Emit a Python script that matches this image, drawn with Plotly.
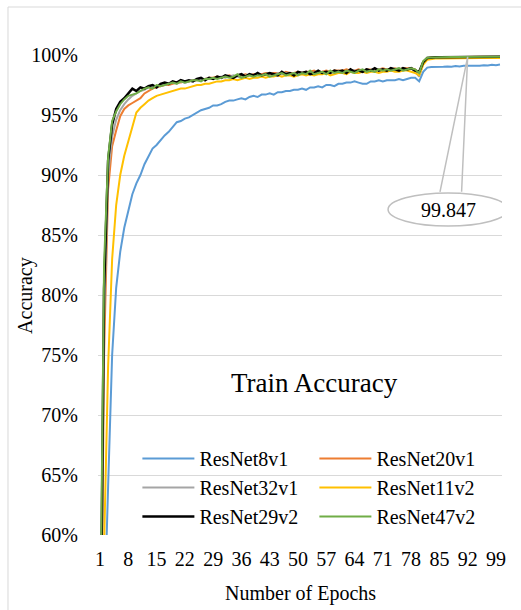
import plotly.graph_objects as go

epochs = list(range(1, 101))
x_tick_vals = list(range(1, 101, 7))
y_tick_vals = [60, 65, 70, 75, 80, 85, 90, 95, 100]
y_tick_text = [f"{v}%" for v in y_tick_vals]

resnet8v1 = [
    34.0, 52.5, 64.0, 75.0, 80.6, 83.6, 85.6, 87.1, 88.4, 89.3,
    90.0, 90.9, 91.6, 92.2, 92.5, 92.9, 93.3, 93.6, 94.0, 94.4,
    94.5, 94.7, 94.8, 95.0, 95.2, 95.4, 95.5, 95.6, 95.8, 95.8,
    95.9, 96.1, 96.2, 96.2, 96.3, 96.4, 96.3, 96.5, 96.6, 96.5,
    96.7, 96.7, 96.8, 96.7, 96.9, 96.9, 97.0, 97.0, 97.1, 97.1,
    97.2, 97.1, 97.3, 97.3, 97.4, 97.3, 97.5, 97.5, 97.4, 97.6,
    97.6, 97.7, 97.7, 97.8, 97.7, 97.6, 97.6, 97.8, 97.8, 97.9,
    97.8, 97.9, 97.9, 97.9, 98.0, 97.9, 98.0, 98.1, 98.1, 97.8,
    98.6, 98.95, 99.0, 99.0, 98.98, 99.02, 99.05, 99.03, 99.08, 99.05,
    99.1, 99.08, 99.12, 99.1, 99.1, 99.15, 99.12, 99.18, 99.15, 99.2,
]
resnet20v1 = [
    40.0, 75.0, 88.8, 92.4, 93.7, 94.9, 95.5, 95.8, 96.0, 96.2,
    96.4, 96.8, 97.0, 97.2, 97.3, 97.4, 97.5, 97.5, 97.6, 97.7,
    97.7, 97.8, 97.8, 97.9, 97.9, 98.0, 98.0, 98.1, 98.1, 98.2,
    98.1, 98.2, 98.3, 98.2, 98.3, 98.3, 98.4, 98.3, 98.4, 98.4,
    98.4, 98.5, 98.4, 98.5, 98.5, 98.4, 98.6, 98.5, 98.5, 98.6,
    98.5, 98.6, 98.6, 98.7, 98.5, 98.6, 98.7, 98.6, 98.7, 98.7,
    98.7, 98.8, 98.7, 98.7, 98.8, 98.7, 98.8, 98.8, 98.7, 98.8,
    98.9, 98.8, 98.8, 98.9, 98.8, 98.9, 98.9, 98.9, 98.8, 98.5,
    99.4, 99.74, 99.79, 99.8, 99.81, 99.82, 99.82, 99.83, 99.83, 99.83,
    99.84, 99.84, 99.84, 99.84, 99.85, 99.85, 99.85, 99.85, 99.85, 99.86,
]
resnet32v1 = [
    42.0, 78.0, 90.0, 93.2, 94.6, 95.4, 95.9, 96.3, 96.6, 96.8,
    97.0, 97.1, 97.3, 97.3, 97.4, 97.5, 97.5, 97.6, 97.7, 97.7,
    97.8, 97.7, 97.8, 97.9, 97.9, 98.0, 98.0, 98.1, 98.0, 98.1,
    98.2, 98.1, 98.2, 98.3, 98.2, 98.1, 98.3, 98.3, 98.2, 98.4,
    98.3, 98.4, 98.4, 98.3, 98.5, 98.4, 98.5, 98.4, 98.5, 98.5,
    98.4, 98.6, 98.5, 98.5, 98.6, 98.5, 98.6, 98.6, 98.5, 98.7,
    98.6, 98.6, 98.7, 98.7, 98.6, 98.7, 98.8, 98.7, 98.7, 98.8,
    98.8, 98.7, 98.8, 98.8, 98.9, 98.8, 98.8, 98.9, 98.6, 98.2,
    99.3, 99.72, 99.78, 99.8, 99.81, 99.81, 99.82, 99.82, 99.83, 99.83,
    99.83, 99.83, 99.84, 99.84, 99.84, 99.84, 99.85, 99.85, 99.85, 99.85,
]
resnet11v2 = [
    35.0, 59.0, 74.0, 83.0, 87.5, 90.0, 91.6, 92.7, 94.0, 95.2,
    95.6, 95.9, 96.2, 96.4, 96.6, 96.7, 96.8, 96.9, 97.0, 97.1,
    97.2, 97.2, 97.3, 97.4, 97.5, 97.5, 97.6, 97.6, 97.7, 97.8,
    97.8, 97.9, 97.9, 98.0, 97.9, 98.0, 98.1, 98.0, 98.1, 98.1,
    98.2, 98.1, 98.2, 98.2, 98.3, 98.2, 98.3, 98.3, 98.2, 98.3,
    98.4, 98.3, 98.4, 98.3, 98.4, 98.4, 98.5, 98.3, 98.4, 98.5,
    98.5, 98.4, 98.6, 98.5, 98.5, 98.6, 98.5, 98.6, 98.6, 98.5,
    98.6, 98.6, 98.7, 98.6, 98.6, 98.7, 98.7, 98.6, 98.5, 98.3,
    99.2, 99.6, 99.68, 99.7, 99.7, 99.71, 99.72, 99.72, 99.72, 99.73,
    99.73, 99.73, 99.74, 99.74, 99.74, 99.74, 99.75, 99.75, 99.75, 99.75,
]
resnet29v2 = [
    45.0, 80.5, 91.2, 94.2, 95.5, 96.1, 96.4, 96.8, 97.2, 97.0,
    97.3, 97.2, 97.4, 97.5, 97.3, 97.6, 97.7, 97.6, 97.8, 97.7,
    97.9, 97.8, 97.9, 97.8, 98.0, 98.1, 97.9, 98.1, 98.0, 98.2,
    98.1, 98.3, 98.2, 98.1, 98.3, 98.4, 98.2, 98.4, 98.3, 98.5,
    98.3, 98.4, 98.5, 98.4, 98.3, 98.6, 98.4, 98.5, 98.3, 98.6,
    98.5, 98.6, 98.4, 98.5, 98.7, 98.5, 98.6, 98.5, 98.7, 98.6,
    98.7, 98.5, 98.8, 98.6, 98.7, 98.6, 98.8, 98.7, 98.9, 98.7,
    98.8, 98.7, 98.9, 98.8, 98.7, 98.9, 98.8, 98.9, 98.7, 98.6,
    99.4, 99.75, 99.8, 99.81, 99.82, 99.82, 99.83, 99.83, 99.84, 99.84,
    99.84, 99.84, 99.85, 99.85, 99.85, 99.85, 99.86, 99.86, 99.86, 99.86,
]
resnet47v2 = [
    50.0, 82.5, 91.5, 94.5, 95.3, 95.9, 96.3, 96.6, 96.7, 96.8,
    97.0, 97.2, 97.3, 97.2, 97.5, 97.4, 97.5, 97.6, 97.7, 97.6,
    97.8, 97.7, 97.8, 97.9, 97.9, 97.8, 98.0, 98.0, 98.1, 98.0,
    98.1, 98.2, 98.1, 98.2, 98.4, 98.1, 98.2, 98.3, 98.2, 98.3,
    98.3, 98.4, 98.2, 98.3, 98.4, 98.5, 98.3, 98.4, 98.5, 98.3,
    98.5, 98.4, 98.7, 98.4, 98.5, 98.6, 98.4, 98.7, 98.5, 98.6,
    98.5, 98.7, 98.6, 98.5, 98.7, 98.8, 98.6, 98.7, 98.6, 98.8,
    98.7, 98.8, 98.7, 98.8, 98.9, 98.7, 98.8, 98.9, 98.8, 98.5,
    99.5, 99.78, 99.8, 99.82, 99.83, 99.83, 99.84, 99.84, 99.84, 99.85,
    99.84, 99.847, 99.85, 99.85, 99.85, 99.86, 99.85, 99.86, 99.86, 99.86,
]

series_names = ["ResNet8v1", "ResNet20v1", "ResNet32v1", "ResNet11v2", "ResNet29v2", "ResNet47v2"]
series_values = [resnet8v1, resnet20v1, resnet32v1, resnet11v2, resnet29v2, resnet47v2]
series_colors = ["#5B9BD5", "#ED7D31", "#A5A5A5", "#FFC000", "#000000", "#70AD47"]
series_widths = [2, 2, 2, 2, 2.5, 2]

label_epoch = 92
label_value = resnet47v2[label_epoch - 1]

FONT = "Liberation Serif"

fig = go.Figure()
for name, vals, col, w in zip(series_names, series_values, series_colors, series_widths):
    fig.add_trace(go.Scatter(x=epochs, y=vals, mode="lines", name=name,
                             line=dict(color=col, width=w)))

# callout
fig.add_shape(type="path", xref="x", yref="y",
              path=f"M 85.15 88.6 L {label_epoch} {label_value} L 90.5 88.6",
              line=dict(color="#bfbfbf", width=1.5), layer="above")
fig.add_shape(type="circle", xref="x", yref="y", x0=72.3, x1=102.0, y0=85.75, y1=88.5,
              line=dict(color="#bfbfbf", width=1.5), fillcolor="white", layer="above")
fig.add_annotation(x=87.15, y=87.12, xref="x", yref="y", text=f"{label_value}",
                   xanchor="center", yanchor="middle",
                   showarrow=False, font=dict(family=FONT, size=20, color="#000000"))

# chart border
fig.add_shape(type="rect", xref="paper", yref="paper", x0=-0.2228, x1=1.3, y0=-0.35, y1=1.1,
              line=dict(color="#d9d9d9", width=1), layer="below")

fig.add_annotation(x=0.535, y=0.317, xref="paper", yref="paper", text="Train Accuracy",
                   xanchor="center", yanchor="middle",
                   showarrow=False, font=dict(family=FONT, size=27, color="#000000"))
fig.add_annotation(x=-0.181, y=0.5, xref="paper", yref="paper", text="Accuracy", textangle=-90,
                   xanchor="center", yanchor="middle",
                   showarrow=False, font=dict(family=FONT, size=20, color="#000000"))
fig.add_annotation(x=0.5, y=-0.121, xref="paper", yref="paper", text="Number of Epochs",
                   xanchor="center", yanchor="middle",
                   showarrow=False, font=dict(family=FONT, size=20, color="#000000"))

fig.update_layout(
    width=521, height=610,
    margin=dict(l=98, r=19, t=55, b=75),
    paper_bgcolor="white", plot_bgcolor="white",
    font=dict(family=FONT, size=20, color="#000000"),
    showlegend=True,
    legend=dict(orientation="h", x=0.0975, y=0.2, xanchor="left", yanchor="top",
                bgcolor="rgba(0,0,0,0)", entrywidth=110, itemwidth=52,
                font=dict(family=FONT, size=20, color="#000000")),
    xaxis=dict(range=[0.5, 100.5], tickmode="array", tickvals=x_tick_vals,
               ticktext=[str(v) for v in x_tick_vals], showgrid=False, zeroline=False,
               showline=False, ticks="", ticklabelstandoff=10,
               tickfont=dict(family=FONT, size=20, color="#000000")),
    yaxis=dict(range=[60, 100], tickmode="array", tickvals=y_tick_vals, ticktext=y_tick_text,
               showgrid=True, gridcolor="#d9d9d9", gridwidth=1, zeroline=False, showline=False,
               ticks="", ticklabelstandoff=19,
               tickfont=dict(family=FONT, size=20, color="#000000")),
)

fig.write_html("out.html")
